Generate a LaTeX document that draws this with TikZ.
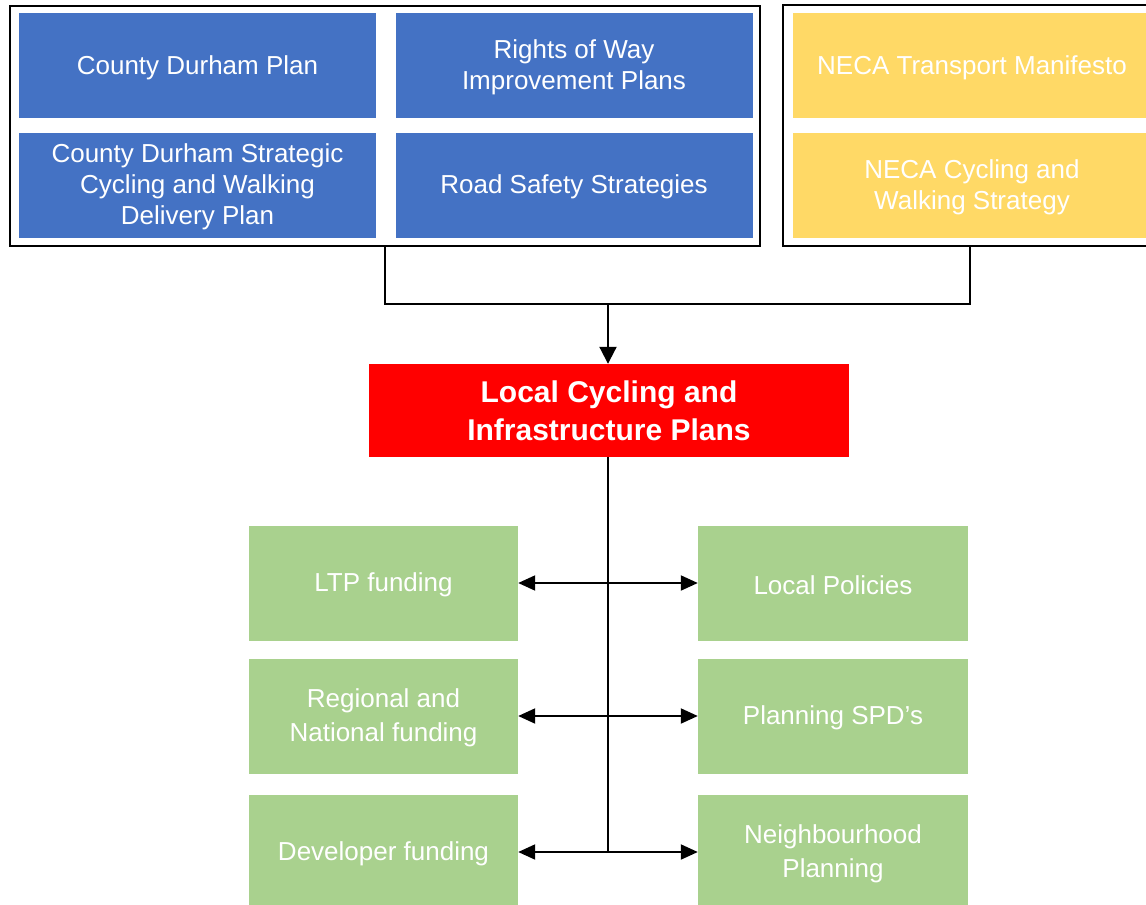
\documentclass[tikz,border=0pt]{standalone}
\usepackage{fontspec}
\setmainfont{Liberation Sans}
\usetikzlibrary{arrows.meta}
\definecolor{cblue}{HTML}{4472C4}
\definecolor{cyellow}{HTML}{FFD966}
\definecolor{cgreen}{HTML}{A9D18E}
\definecolor{cred}{HTML}{FF0000}
\begin{document}
\begin{tikzpicture}[x=1pt,y=-1pt,
  box/.style={rectangle, draw=none, inner sep=0pt},
  txt/.style={text=white, align=center, inner sep=0pt, font=\fontsize{26}{31}\selectfont, yshift=-2pt},
  gtxt/.style={txt, font=\fontsize{26}{34}\selectfont},
  bluebox/.style={box, fill=cblue, minimum width=357pt, minimum height=105pt},
  yellowbox/.style={box, fill=cyellow, minimum width=358pt, minimum height=105pt},
  greenbox/.style={box, fill=cgreen, minimum width=270pt, minimum height=115pt},
  redbox/.style={box, fill=cred, minimum width=480pt, minimum height=93pt, text=white, align=center, font=\fontsize{30}{38}\selectfont\bfseries},
  frame/.style={rectangle, draw=black, line width=2.6pt, inner sep=0pt},
  conn/.style={draw=black, line width=2pt},
  tip/.style={-{Triangle[length=17pt,width=17pt]}},
  dtip/.style={{Triangle[length=17pt,width=15pt]}-{Triangle[length=17pt,width=15pt]}}
]
\clip (0,0) rectangle (1146,905);
\fill[white] (0,0) rectangle (1146,905);

% frames
\node[frame, minimum width=750pt, minimum height=240pt] (frameL) at (385,126) {};
\node[frame, minimum width=378pt, minimum height=241pt] (frameR) at (972,125.5) {};

% blue boxes
\node[bluebox, label={[txt]center:County Durham Plan}] (b1) at (197.5,65.5) {};
\node[bluebox, label={[txt]center:Rights of Way\\Improvement Plans}] (b2) at (574,65.5) {};
\node[bluebox, label={[txt]center:County Durham Strategic\\Cycling and Walking\\Delivery Plan}] (b3) at (197.5,185) {};
\node[bluebox, label={[txt]center:Road Safety Strategies}] (b4) at (574,185) {};

% yellow boxes
\node[yellowbox, label={[txt]center:NECA Transport Manifesto}] (y1) at (972,65.5) {};
\node[yellowbox, label={[txt]center:NECA Cycling and\\Walking Strategy}] (y2) at (972,185) {};

% red box
\node[redbox] (red) at (609,410.5) {Local Cycling and\\Infrastructure Plans};

% green boxes
\node[greenbox, minimum width=269pt, label={[gtxt]center:LTP funding}] (gl1) at (383.5,583) {};
\node[greenbox, minimum width=269pt, label={[gtxt]center:Regional and\\National funding}] (gl2) at (383.5,716) {};
\node[greenbox, minimum width=269pt, label={[gtxt]center:Developer funding}] (gl3) at (383.5,852) {};
\node[greenbox, label={[gtxt]center:Local Policies}] (gr1) at (833,583) {};
\node[greenbox, label={[gtxt]center:Planning SPD’s}] (gr2) at (833,716) {};
\node[greenbox, label={[gtxt]center:Neighbourhood\\Planning}] (gr3) at (833,852) {};

% connectors top
\coordinate (jl) at (385,304);
\coordinate (jr) at (970,304);
\coordinate (jc) at (608,304);
\draw[conn] (385,246) -- (jl) -- (jr) -- (970,246);
\draw[conn, tip] (jc) -- (jc |- red.north);

% central trunk
\coordinate (trunkEnd) at (608,852);
\draw[conn] (jc |- red.south) -- (trunkEnd);

% double arrows
\draw[conn, dtip] (gl1.east) -- (gr1.west);
\draw[conn, dtip] (gl2.east) -- (gr2.west);
\draw[conn, dtip] (gl3.east) -- (gr3.west);
\end{tikzpicture}
\end{document}
